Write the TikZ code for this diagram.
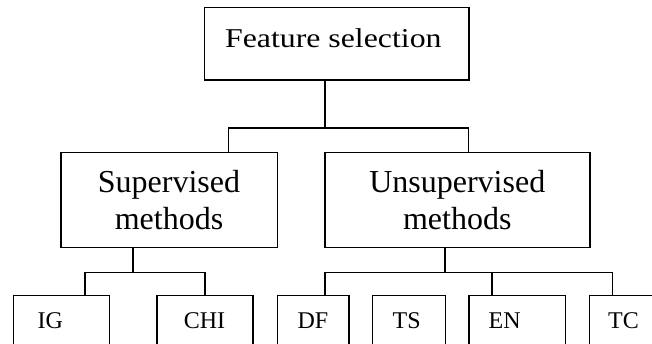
\documentclass[tikz,border=0pt]{standalone}
\usepackage{fontspec}
\setmainfont{Liberation Serif}
\newfontfamily\stretchfont[FakeStretch=1.17]{Liberation Serif}
\begin{document}
\begin{tikzpicture}[x=1pt,y=-1pt,
  box/.style={draw=black, line width=1.5pt, rectangle, inner sep=0pt, outer sep=0pt, fill=none},
  conn/.style={draw=black, line width=1.5pt, line join=miter},
  lbl/.style={anchor=base, inner sep=0pt, outer sep=0pt},
  big/.style={font=\fontsize{32}{37}\selectfont},
  small/.style={font=\fontsize{24}{28}\selectfont},
  title/.style={font=\stretchfont\fontsize{27.2}{30}\selectfont}]
\useasboundingbox (0,0) rectangle (652,343);
\clip (0,0) rectangle (652,343);
\fill[white] (0,0) rectangle (652,343);

% boxes
\node[box, minimum width=264.3pt, minimum height=72.7pt] (top) at (336.85,43.65) {};
\node[box, minimum width=216.3pt, minimum height=95pt] (sup) at (169.15,199.8) {};
\node[box, minimum width=265pt, minimum height=95pt] (uns) at (457.5,199.8) {};
\node[box, minimum width=95.7pt, minimum height=80pt] (ig) at (61.55,335.3) {};
\node[box, minimum width=95.6pt, minimum height=80pt] (chi) at (205,335.3) {};
\node[box, minimum width=71.3pt, minimum height=80pt] (df) at (313.35,335.3) {};
\node[box, minimum width=72.6pt, minimum height=80pt] (ts) at (409,335.3) {};
\node[box, minimum width=96.3pt, minimum height=80pt] (en) at (517.15,335.3) {};
\node[box, minimum width=96pt, minimum height=80pt] (tc) at (637.3,335.3) {};

% texts
\node[lbl, title] (ttop) at (333.3,47.3) {Feature selection};
\node[lbl, big] (tsup1) at (169,192.3) {Supervised};
\node[lbl, big] (tsup2) at (169,229.3) {methods};
\node[lbl, big] (tuns1) at (457.3,192.3) {Unsupervised};
\node[lbl, big] (tuns2) at (457.3,229.3) {methods};
\node[lbl, small] (tig) at (50.3,328.7) {IG};
\node[lbl, small] (tchi) at (204.5,328.7) {CHI};
\node[lbl, small] (tdf) at (313,328.7) {DF};
\node[lbl, small] (tts) at (406.7,328.7) {TS};
\node[lbl, small] (ten) at (504.7,328.7) {EN};
\node[lbl, small] (ttc) at (623.5,328.7) {TC};

% junctions
\coordinate (j1) at (325.2,127.8);
\coordinate (ja) at (228.7,127.8);
\coordinate (jb) at (468.6,127.8);
\coordinate (k1) at (133,272.7);
\coordinate (ka) at (85.2,272.7);
\coordinate (kb) at (205,272.7);
\coordinate (m1) at (445,272.7);
\coordinate (ma) at (325.2,272.7);
\coordinate (mb) at (491.9,272.7);
\coordinate (mc) at (612.5,272.7);

% connectors
\draw[conn] (top.south -| j1) -- (j1);
\draw[conn] (ja |- sup.north) -- (ja) -- (jb) -- (jb |- uns.north);
\draw[conn] (sup.south -| k1) -- (k1);
\draw[conn] (ka |- ig.north) -- (ka) -- (kb) -- (kb |- chi.north);
\draw[conn] (uns.south -| m1) -- (m1);
\draw[conn] (ma |- df.north) -- (ma) -- (mc) -- (mc |- tc.north);
\draw[conn] (mb) -- (mb |- en.north);
\end{tikzpicture}
\end{document}
